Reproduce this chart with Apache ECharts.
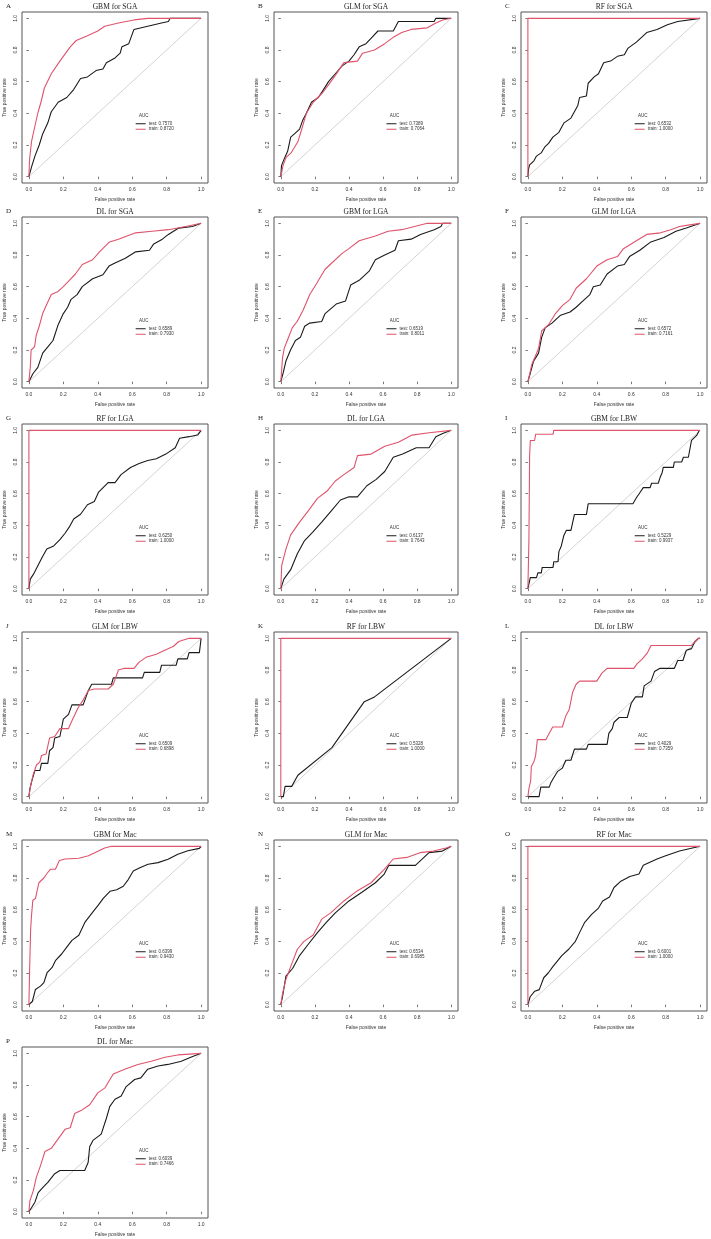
<!DOCTYPE html>
<html>
<head>
<meta charset="utf-8">
<script src="https://cdn.jsdelivr.net/npm/echarts@6/dist/echarts.min.js"></script>
<style>
  html, body { margin: 0; padding: 0; background: #fff; }
  #chart { width: 711px; height: 1239px; }
</style>
</head>
<body>
<div id="chart"></div>
<script>
// panel letters, titles and AUC values
const letters = ['A','B','C','D','E','F','G','H','I','J','K','L','M','N','O','P'];
const titles = ['GBM for SGA','GLM for SGA','RF for SGA','DL for SGA','GBM for LGA','GLM for LGA',
  'RF for LGA','DL for LGA','GBM for LBW','GLM for LBW','RF for LBW','DL for LBW',
  'GBM for Mac','GLM for Mac','RF for Mac','DL for Mac'];
const aucTest = ['0.7570','0.7389','0.6532','0.6589','0.6519','0.6572','0.6250','0.6137',
  '0.5229','0.6509','0.5328','0.4029','0.6399','0.6534','0.6001','0.6039'];
const aucTrain = ['0.8720','0.7064','1.0000','0.7930','0.8011','0.7161','1.0000','0.7643',
  '0.9937','0.6898','1.0000','0.7359','0.9430','0.6985','1.0000','0.7466'];
const tickValues = [0, 0.2, 0.4, 0.6, 0.8, 1.0];
const diagonal = [[0, 0], [1, 1]];
const perfect = [[0, 0], [0, 1], [1, 1]];

// ROC curves [false positive rate, true positive rate]
const testA = [[0,0],[0.015,0.06],[0.035,0.13],[0.06,0.2],[0.08,0.27],[0.11,0.34],[0.13,0.41],[0.17,0.47],[0.22,0.5],[0.26,0.55],[0.3,0.62],[0.34,0.63],[0.39,0.67],[0.43,0.68],[0.45,0.72],[0.5,0.75],[0.53,0.78],[0.54,0.82],[0.58,0.84],[0.61,0.93],[0.69,0.95],[0.77,0.97],[0.81,0.98],[0.82,1],[1,1]];
const trainA = [[0,0],[0.004,0.11],[0.015,0.22],[0.035,0.32],[0.054,0.41],[0.07,0.47],[0.09,0.56],[0.13,0.65],[0.18,0.73],[0.24,0.82],[0.275,0.86],[0.34,0.89],[0.4,0.92],[0.44,0.95],[0.52,0.97],[0.61,0.99],[0.69,1],[1,1]];
const testB = [[0,0],[0.004,0.07],[0.023,0.12],[0.04,0.16],[0.058,0.25],[0.08,0.27],[0.11,0.3],[0.13,0.36],[0.15,0.4],[0.18,0.47],[0.22,0.5],[0.245,0.54],[0.28,0.6],[0.32,0.65],[0.36,0.7],[0.4,0.73],[0.43,0.77],[0.46,0.82],[0.5,0.84],[0.535,0.88],[0.57,0.92],[0.66,0.92],[0.69,0.98],[0.9,0.98],[0.91,1],[1,1]];
const trainB = [[0,0],[0.013,0.07],[0.03,0.12],[0.06,0.15],[0.1,0.22],[0.12,0.29],[0.15,0.4],[0.19,0.47],[0.245,0.53],[0.28,0.58],[0.32,0.64],[0.37,0.72],[0.45,0.73],[0.48,0.78],[0.55,0.8],[0.61,0.84],[0.66,0.88],[0.71,0.91],[0.765,0.93],[0.86,0.94],[0.91,0.97],[0.95,0.99],[1,1]];
const testC = [[0,0],[0.004,0.05],[0.01,0.075],[0.035,0.1],[0.05,0.13],[0.077,0.15],[0.1,0.19],[0.12,0.21],[0.145,0.25],[0.18,0.28],[0.21,0.34],[0.25,0.37],[0.29,0.45],[0.3,0.5],[0.34,0.51],[0.35,0.59],[0.385,0.63],[0.41,0.65],[0.44,0.72],[0.48,0.73],[0.52,0.76],[0.56,0.77],[0.58,0.81],[0.63,0.85],[0.69,0.91],[0.75,0.93],[0.81,0.96],[0.87,0.98],[1,1]];
const trainC = perfect;
const testD = [[0,0],[0.023,0.05],[0.052,0.09],[0.08,0.18],[0.11,0.22],[0.14,0.26],[0.17,0.36],[0.2,0.43],[0.225,0.47],[0.245,0.52],[0.28,0.55],[0.31,0.6],[0.37,0.65],[0.43,0.675],[0.465,0.73],[0.5,0.75],[0.56,0.78],[0.62,0.82],[0.7,0.83],[0.725,0.87],[0.775,0.9],[0.81,0.93],[0.87,0.97],[0.95,0.98],[1,1]];
const trainD = [[0,0],[0.008,0.09],[0.013,0.2],[0.033,0.22],[0.042,0.29],[0.06,0.35],[0.08,0.43],[0.1,0.48],[0.13,0.55],[0.17,0.57],[0.2,0.6],[0.235,0.64],[0.27,0.68],[0.31,0.74],[0.37,0.77],[0.41,0.82],[0.465,0.88],[0.52,0.9],[0.62,0.94],[0.715,0.95],[0.81,0.96],[0.91,0.98],[1,1]];
const testE = [[0,0],[0.015,0.06],[0.03,0.13],[0.057,0.2],[0.086,0.26],[0.115,0.28],[0.14,0.35],[0.17,0.37],[0.24,0.38],[0.26,0.43],[0.325,0.49],[0.38,0.51],[0.41,0.61],[0.46,0.64],[0.52,0.7],[0.555,0.77],[0.61,0.8],[0.67,0.83],[0.69,0.89],[0.765,0.9],[0.82,0.93],[0.9,0.96],[0.94,0.98],[0.95,1],[1,1]];
const trainE = [[0,0],[0.01,0.15],[0.02,0.21],[0.038,0.26],[0.067,0.34],[0.096,0.38],[0.13,0.45],[0.17,0.55],[0.21,0.62],[0.26,0.71],[0.29,0.74],[0.36,0.81],[0.4,0.84],[0.46,0.89],[0.555,0.92],[0.63,0.95],[0.71,0.96],[0.785,0.98],[0.86,1],[1,1]];
const testF = [[0,0],[0.013,0.05],[0.033,0.13],[0.062,0.18],[0.08,0.28],[0.1,0.34],[0.14,0.37],[0.19,0.42],[0.245,0.44],[0.28,0.47],[0.32,0.51],[0.36,0.55],[0.38,0.6],[0.42,0.61],[0.46,0.68],[0.52,0.73],[0.56,0.74],[0.59,0.79],[0.65,0.83],[0.71,0.88],[0.79,0.91],[0.86,0.95],[0.92,0.97],[1,1]];
const trainF = [[0,0],[0.013,0.06],[0.023,0.11],[0.043,0.16],[0.062,0.21],[0.08,0.32],[0.12,0.36],[0.16,0.43],[0.2,0.48],[0.245,0.52],[0.28,0.59],[0.34,0.65],[0.4,0.73],[0.46,0.77],[0.52,0.79],[0.555,0.84],[0.63,0.89],[0.69,0.93],[0.77,0.94],[0.83,0.96],[0.88,0.98],[0.94,0.99],[1,1]];
const testG = [[0,0],[0.008,0.06],[0.026,0.09],[0.052,0.145],[0.078,0.2],[0.104,0.25],[0.144,0.27],[0.18,0.31],[0.21,0.35],[0.235,0.39],[0.26,0.44],[0.3,0.47],[0.34,0.53],[0.38,0.55],[0.405,0.61],[0.46,0.67],[0.5,0.67],[0.535,0.72],[0.59,0.765],[0.64,0.79],[0.69,0.81],[0.74,0.82],[0.795,0.85],[0.85,0.89],[0.875,0.95],[0.93,0.96],[0.98,0.97],[1,1]];
const trainG = perfect;
const testH = [[0,0],[0.018,0.06],[0.058,0.12],[0.097,0.22],[0.137,0.3],[0.19,0.36],[0.24,0.42],[0.295,0.49],[0.35,0.56],[0.4,0.58],[0.45,0.58],[0.505,0.65],[0.56,0.69],[0.61,0.74],[0.66,0.83],[0.715,0.85],[0.795,0.89],[0.87,0.89],[0.91,0.96],[0.95,0.98],[1,1]];
const trainH = [[0,0],[0.005,0.145],[0.03,0.25],[0.058,0.34],[0.11,0.42],[0.16,0.49],[0.215,0.57],[0.27,0.615],[0.32,0.68],[0.37,0.72],[0.43,0.765],[0.45,0.84],[0.53,0.85],[0.61,0.9],[0.69,0.925],[0.77,0.97],[0.87,0.985],[1,1]];
const testI = [[0,0],[0.006,0.01],[0.014,0.07],[0.05,0.07],[0.058,0.1],[0.078,0.1],[0.083,0.134],[0.146,0.134],[0.15,0.17],[0.175,0.17],[0.18,0.234],[0.194,0.27],[0.208,0.334],[0.223,0.368],[0.25,0.368],[0.27,0.468],[0.34,0.468],[0.35,0.536],[0.61,0.536],[0.63,0.574],[0.65,0.606],[0.67,0.638],[0.71,0.638],[0.718,0.666],[0.757,0.666],[0.767,0.7],[0.78,0.734],[0.786,0.766],[0.845,0.766],[0.85,0.8],[0.893,0.8],[0.903,0.83],[0.932,0.83],[0.95,0.936],[0.98,0.968],[0.996,1],[1,1]];
const trainI = [[0,0],[0.006,0.31],[0.01,0.84],[0.014,0.936],[0.039,0.936],[0.045,0.975],[0.146,0.975],[0.15,1],[1,1]];
const testJ = [[0,0],[0.006,0.05],[0.015,0.09],[0.025,0.13],[0.035,0.165],[0.064,0.165],[0.073,0.21],[0.11,0.21],[0.12,0.29],[0.14,0.31],[0.15,0.37],[0.18,0.38],[0.2,0.49],[0.23,0.52],[0.25,0.58],[0.315,0.58],[0.345,0.67],[0.365,0.71],[0.48,0.71],[0.49,0.75],[0.66,0.75],[0.67,0.785],[0.76,0.785],[0.77,0.83],[0.855,0.83],[0.865,0.87],[0.92,0.87],[0.93,0.91],[0.99,0.91],[1,1]];
const trainJ = [[0,0],[0.01,0.07],[0.025,0.14],[0.044,0.2],[0.064,0.22],[0.073,0.26],[0.1,0.27],[0.12,0.37],[0.15,0.38],[0.18,0.43],[0.23,0.43],[0.25,0.48],[0.285,0.56],[0.315,0.61],[0.345,0.67],[0.38,0.68],[0.46,0.68],[0.49,0.71],[0.52,0.8],[0.55,0.81],[0.61,0.81],[0.64,0.85],[0.68,0.88],[0.74,0.9],[0.78,0.92],[0.84,0.95],[0.87,0.98],[0.93,1],[1,1]];
const testK = [[0,0],[0.015,0],[0.025,0.065],[0.064,0.065],[0.1,0.135],[0.3,0.31],[0.49,0.6],[0.55,0.63],[1,1]];
const trainK = perfect;
const testL = [[0,0],[0.065,0],[0.075,0.06],[0.124,0.06],[0.134,0.09],[0.15,0.12],[0.173,0.16],[0.2,0.18],[0.22,0.23],[0.25,0.23],[0.27,0.3],[0.34,0.3],[0.35,0.33],[0.46,0.33],[0.47,0.4],[0.49,0.43],[0.5,0.47],[0.53,0.5],[0.577,0.5],[0.6,0.59],[0.625,0.63],[0.665,0.63],[0.675,0.7],[0.715,0.73],[0.735,0.79],[0.765,0.81],[0.85,0.81],[0.87,0.86],[0.9,0.86],[0.92,0.925],[0.95,0.935],[0.97,0.98],[0.99,1],[1,1]];
const trainL = [[0,0],[0.006,0.05],[0.016,0.1],[0.02,0.19],[0.035,0.22],[0.045,0.26],[0.055,0.36],[0.104,0.36],[0.124,0.4],[0.144,0.44],[0.2,0.44],[0.22,0.51],[0.24,0.55],[0.26,0.66],[0.28,0.71],[0.3,0.73],[0.4,0.73],[0.43,0.78],[0.46,0.81],[0.615,0.81],[0.635,0.84],[0.665,0.87],[0.695,0.91],[0.715,0.955],[0.95,0.955],[0.97,0.98],[0.99,1],[1,1]];
const testM = [[0,0],[0.02,0.02],[0.038,0.096],[0.067,0.117],[0.087,0.139],[0.106,0.203],[0.135,0.235],[0.154,0.278],[0.19,0.32],[0.22,0.363],[0.25,0.406],[0.29,0.438],[0.327,0.523],[0.365,0.577],[0.404,0.63],[0.433,0.673],[0.471,0.716],[0.51,0.726],[0.548,0.748],[0.577,0.79],[0.606,0.844],[0.644,0.865],[0.692,0.887],[0.75,0.897],[0.808,0.919],[0.865,0.95],[0.923,0.972],[0.99,0.987],[1,1]];
const trainM = [[0,0],[0.004,0.21],[0.01,0.47],[0.015,0.56],[0.023,0.66],[0.038,0.67],[0.058,0.77],[0.087,0.8],[0.106,0.83],[0.125,0.855],[0.154,0.855],[0.177,0.91],[0.21,0.92],[0.29,0.925],[0.346,0.94],[0.404,0.97],[0.44,0.99],[0.48,1],[1,1]];
const testN = [[0,0],[0.01,0.05],[0.03,0.18],[0.07,0.23],[0.11,0.31],[0.16,0.38],[0.215,0.455],[0.267,0.52],[0.32,0.58],[0.4,0.655],[0.476,0.71],[0.555,0.77],[0.607,0.825],[0.634,0.88],[0.79,0.88],[0.87,0.96],[0.948,0.97],[1,1]];
const trainN = [[0,0],[0.01,0.07],[0.03,0.16],[0.058,0.24],[0.097,0.35],[0.136,0.4],[0.19,0.44],[0.24,0.54],[0.293,0.58],[0.37,0.655],[0.45,0.72],[0.53,0.77],[0.607,0.855],[0.66,0.92],[0.74,0.93],[0.817,0.96],[0.895,0.97],[0.97,0.99],[1,1]];
const testO = [[0,0],[0.013,0.05],[0.04,0.085],[0.066,0.095],[0.092,0.17],[0.118,0.2],[0.145,0.24],[0.197,0.31],[0.237,0.35],[0.276,0.4],[0.3,0.455],[0.33,0.52],[0.37,0.57],[0.41,0.61],[0.434,0.655],[0.474,0.68],[0.5,0.74],[0.54,0.78],[0.592,0.81],[0.645,0.825],[0.67,0.88],[0.75,0.92],[0.8,0.94],[0.88,0.97],[1,1]];
const trainO = perfect;
const testP = [[0,0],[0.015,0.025],[0.035,0.06],[0.054,0.12],[0.083,0.155],[0.11,0.185],[0.15,0.24],[0.18,0.26],[0.324,0.26],[0.344,0.31],[0.353,0.41],[0.372,0.45],[0.42,0.49],[0.43,0.49],[0.45,0.59],[0.47,0.665],[0.5,0.71],[0.536,0.73],[0.565,0.79],[0.614,0.835],[0.65,0.845],[0.69,0.9],[0.75,0.92],[0.807,0.93],[0.885,0.95],[0.94,0.975],[1,1]];
const trainP = [[0,0],[0.006,0.07],[0.025,0.13],[0.044,0.22],[0.064,0.28],[0.083,0.345],[0.093,0.38],[0.13,0.4],[0.17,0.46],[0.21,0.52],[0.24,0.53],[0.266,0.62],[0.305,0.64],[0.353,0.675],[0.4,0.75],[0.44,0.78],[0.49,0.87],[0.556,0.9],[0.633,0.93],[0.71,0.95],[0.79,0.975],[0.865,0.99],[1,1]];

const testCurves = [testA,testB,testC,testD,testE,testF,testG,testH,testI,testJ,testK,testL,testM,testN,testO,testP];
const trainCurves = [trainA,trainB,trainC,trainD,trainE,trainF,trainG,trainH,trainI,trainJ,trainK,trainL,trainM,trainN,trainO,trainP];

// layout of the panel boxes
const colLeft = [22, 274, 521];
const colWidth = [186, 184, 186];
const rowTop = [12, 217, 424, 632, 840, 1047];
const boxH = 171;
const TEST_COLOR = '#1a1a1a';
const TRAIN_COLOR = '#df536b';
const textBase = { fontWeight: 'normal', color: '#333', fontFamily: 'Liberation Sans' };

const chart = echarts.init(document.getElementById('chart'));

const grid = [], xAxis = [], yAxis = [], series = [], title = [], legend = [];

letters.forEach((id, i) => {
  const left = colLeft[i % 3];
  const width = colWidth[i % 3];
  const top = rowTop[Math.floor(i / 3)];
  const x0 = left + width * 0.04 / 1.08;
  const pw = width / 1.08;
  const yAt = v => top + (1.04 - v) / 1.08 * boxH;

  grid.push({ left: left, top: top, width: width, height: boxH, show: true,
    borderColor: '#555', borderWidth: 1, backgroundColor: 'transparent' });

  const axisCommon = {
    gridIndex: i, type: 'value', min: -0.04, max: 1.04,
    splitLine: { show: false },
    axisLine: { show: false },
    axisTick: { show: true, customValues: tickValues, length: 2.5, lineStyle: { color: '#555', width: 0.8 } },
    nameLocation: 'middle',
    nameTextStyle: Object.assign({ fontSize: 5 }, textBase)
  };
  xAxis.push(Object.assign({}, axisCommon, {
    name: 'False positive rate', nameGap: 14,
    axisLabel: Object.assign({ customValues: tickValues, fontSize: 5, margin: 4,
      formatter: v => v.toFixed(1) }, textBase)
  }));
  yAxis.push(Object.assign({}, axisCommon, {
    name: 'True positive rate', nameGap: 15,
    axisLabel: Object.assign({ customValues: tickValues, fontSize: 5, margin: 4, rotate: 90,
      formatter: v => v.toFixed(1) }, textBase)
  }));

  const testName = id + '|test: ' + aucTest[i];
  const trainName = id + '|train: ' + aucTrain[i];
  series.push({ type: 'line', xAxisIndex: i, yAxisIndex: i, data: diagonal, silent: true,
    showSymbol: false, lineStyle: { color: '#c8c8c8', width: 0.8 }, animation: false });
  series.push({ name: testName, type: 'line', xAxisIndex: i, yAxisIndex: i, data: testCurves[i],
    showSymbol: false, color: TEST_COLOR, lineStyle: { color: TEST_COLOR, width: 1.1 }, animation: false });
  series.push({ name: trainName, type: 'line', xAxisIndex: i, yAxisIndex: i, data: trainCurves[i],
    showSymbol: false, color: TRAIN_COLOR, lineStyle: { color: TRAIN_COLOR, width: 1.1 }, animation: false });

  title.push({ text: titles[i], left: left + width / 2, top: top - 9, textAlign: 'center', padding: 0,
    textStyle: { fontSize: 7.5, fontWeight: 'normal', color: '#222', fontFamily: 'Liberation Serif' } });
  title.push({ text: id, left: left - 16, top: top - 9, padding: 0,
    textStyle: { fontSize: 7, fontWeight: 'normal', color: '#222', fontFamily: 'Liberation Serif' } });
  title.push({ text: 'AUC', left: x0 + pw * 0.667, top: yAt(0.4), textAlign: 'center', padding: 0,
    textStyle: Object.assign({ fontSize: 4.5 }, textBase) });

  legend.push({
    data: [
      { name: testName, itemStyle: { color: TEST_COLOR } },
      { name: trainName, itemStyle: { color: TRAIN_COLOR } }
    ],
    orient: 'vertical',
    left: x0 + pw * 0.62, top: yAt(0.35),
    icon: 'rect', itemWidth: 10, itemHeight: 1, itemGap: 0.5, padding: 0,
    selectedMode: false,
    formatter: n => n.split('|')[1],
    textStyle: Object.assign({ fontSize: 4.5, lineHeight: 5, padding: [0, 0, 0, -2] }, textBase)
  });
});

chart.setOption({ animation: false, grid, xAxis, yAxis, series, title, legend });
</script>
</body>
</html>
